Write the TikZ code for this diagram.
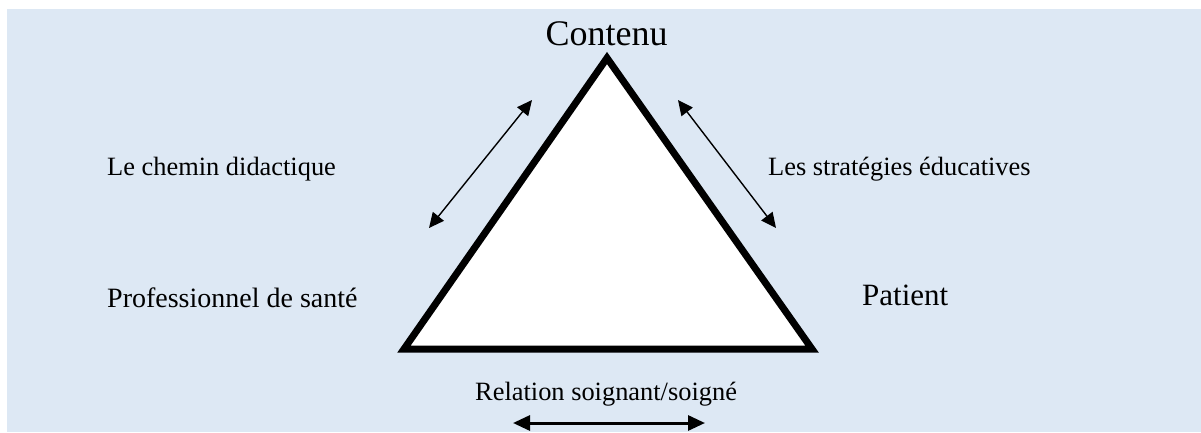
\documentclass[tikz,border=0pt]{standalone}
\usepackage{fontspec}
\setmainfont{Liberation Serif}
\usetikzlibrary{arrows.meta}
\definecolor{fond}{HTML}{DDE8F4}

\begin{document}
\begin{tikzpicture}[x=1pt,y=-1pt,
    label/.style={inner sep=0pt, anchor=base west, font=\fontsize{26.4}{30}\selectfont},
    gros/.style={inner sep=0pt, anchor=base west, font=\fontsize{31}{36}\selectfont},
    fleche/.style={line width=1.4pt, {Triangle[length=15pt,width=14pt]}-{Triangle[length=15pt,width=14pt]}}]
    %%background
    \useasboundingbox (0,0) rectangle (1201,432);
    \fill[fond] (7,9) rectangle (1201,432);
    %%triangle
    \coordinate (sommet) at (607,58);
    \coordinate (gauche) at (404,349);
    \coordinate (droite) at (812,349);
    \draw[line width=7pt, fill=white, miter limit=10] (gauche) -- (sommet) -- (droite) -- cycle;
    %%poles
    \node[gros, anchor=base, font=\fontsize{36}{40}\selectfont] (contenu) at (606.5,45) {Contenu};
    \node[gros, font=\fontsize{28}{32}\selectfont] (pro) at (107,307) {Professionnel de santé};
    \node[gros] (patient) at (862,305) {Patient};
    %%relations
    \node[label] (chemin) at (107,175) {Le chemin didactique};
    \node[label] (strategies) at (768,175) {Les stratégies éducatives};
    \node[label] (relation) at (475,400) {Relation soignant/soigné};
    %%arrows
    \coordinate (ch1) at (429,228);
    \coordinate (ch2) at (532,100);
    \coordinate (st1) at (678,100);
    \coordinate (st2) at (776,228);
    \coordinate (re1) at (513,423);
    \coordinate (re2) at (705,423);
    \draw[fleche] (ch1) to (ch2);
    \draw[fleche] (st1) to (st2);
    \draw[fleche, line width=3pt, {Triangle[length=17pt,width=15pt]}-{Triangle[length=17pt,width=15pt]}] (re1) to (re2);
\end{tikzpicture}
\end{document}
